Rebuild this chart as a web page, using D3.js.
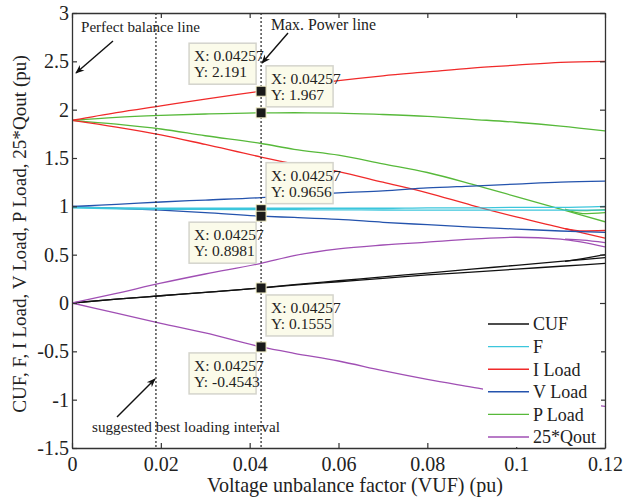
<!DOCTYPE html>
<html>
<head>
<meta charset="utf-8">
<script src="https://cdnjs.cloudflare.com/ajax/libs/d3/7.8.5/d3.min.js"></script>
<style>
  body { margin: 0; background: #fff; }
</style>
</head>
<body>
<div id="chartCont"></div>
<script>
// sample points along the VUF axis (pu)
const vuf = [0, 0.01, 0.02, 0.03, 0.04257, 0.05, 0.06, 0.07, 0.08, 0.09, 0.1, 0.11, 0.12];

// each quantity was simulated twice (two loading cases), so two curves per colour
const cufA   = [0, 0.04, 0.075, 0.11, 0.1555, 0.19, 0.23, 0.27, 0.31, 0.35, 0.39, 0.43, 0.47];
const cufB   = [0, 0.04, 0.075, 0.11, 0.155, 0.185, 0.22, 0.255, 0.29, 0.32, 0.35, 0.38, 0.41];
const fA     = [0.99, 0.985, 0.98, 0.98, 0.98, 0.98, 0.98, 0.98, 0.985, 0.985, 0.99, 0.99, 1.0];
const fB     = [0.985, 0.975, 0.97, 0.968, 0.9656, 0.965, 0.963, 0.962, 0.961, 0.96, 0.96, 0.96, 0.96];
const iLoadA = [1.89, 1.97, 2.04, 2.11, 2.191, 2.24, 2.30, 2.35, 2.39, 2.43, 2.46, 2.49, 2.50];
const iLoadB = [1.89, 1.82, 1.74, 1.64, 1.51, 1.44, 1.36, 1.25, 1.14, 1.01, 0.89, 0.78, 0.67];
const vLoadA = [1.0, 1.02, 1.045, 1.065, 1.09, 1.11, 1.14, 1.16, 1.19, 1.21, 1.23, 1.25, 1.26];
const vLoadB = [1.0, 0.98, 0.96, 0.935, 0.8981, 0.885, 0.865, 0.835, 0.81, 0.785, 0.765, 0.745, 0.73];
const pLoadA = [1.89, 1.92, 1.94, 1.955, 1.967, 1.968, 1.965, 1.95, 1.93, 1.90, 1.87, 1.83, 1.78];
const pLoadB = [1.89, 1.85, 1.80, 1.73, 1.65, 1.59, 1.53, 1.44, 1.35, 1.23, 1.10, 0.97, 0.84];
const qOutA  = [0, 0.10, 0.205, 0.30, 0.41, 0.49, 0.56, 0.60, 0.63, 0.66, 0.68, 0.66, 0.58];
const qOutB  = [0, -0.105, -0.21, -0.31, -0.4543, -0.52, -0.60, -0.70, -0.79, -0.87, -0.95, -1.01, -1.07];

// short branches that split off near the end of the range
const branchX  = [0.111, 0.115, 0.12];
const pLoadC   = [0.96, 0.955, 0.965];
const pLoadD   = [0.97, 0.925, 0.935];
const iLoadC   = [0.77, 0.745, 0.75];
const qOutC    = [0.66, 0.65, 0.625];
const cufC     = [0.43, 0.46, 0.50];

const seriesNames  = ["CUF", "F", "I Load", "V Load", "P Load", "25*Qout"];
const seriesColors = ["#111111", "#3cc6dc", "#f02a2a", "#2453ad", "#57b93a", "#a04fb4"];

const xTicks = [0, 0.02, 0.04, 0.06, 0.08, 0.1, 0.12];
const yTicks = [-1.5, -1, -0.5, 0, 0.5, 1, 1.5, 2, 2.5, 3];

// dotted guide lines
const bestLoadX = 0.0189;
const maxPowerX = 0.04257;

// data-tip values at VUF = 0.04257
const tipY = [2.191, 1.967, 0.9656, 0.8981, 0.1555, -0.4543];

(function() {
  let width = 632,
    height = 499;
  let margin = {top: 13, right: 27, bottom: 51, left: 72};
  let w = width - margin.left - margin.right,
    h = height - margin.top - margin.bottom;

  let svg = d3.select("#chartCont")
    .append("svg")
    .attr("width", width)
    .attr("height", height)
    .attr("font-family", "Liberation Serif");

  // shrink/grow a text so it spans the same width as in the picture
  function fitText(sel, target) {
    let len = sel.node().getComputedTextLength();
    let fs = parseFloat(sel.attr("font-size"));
    sel.attr("font-size", (fs * target / len).toFixed(2));
  }

  let defs = svg.append("defs");
  defs.append("clipPath").attr("id", "plotClip")
    .append("rect").attr("width", w).attr("height", h);
  defs.append("marker")
    .attr("id", "arrow")
    .attr("viewBox", "0 0 10 10")
    .attr("refX", 9).attr("refY", 5)
    .attr("markerWidth", 9).attr("markerHeight", 9)
    .attr("markerUnits", "userSpaceOnUse")
    .attr("orient", "auto")
    .append("path")
    .attr("d", "M0,1 L10,5 L0,9 L3,5 Z")
    .attr("fill", "#111");

  let g = svg.append("g")
    .attr("transform", "translate(" + margin.left + "," + margin.top + ")");

  let x = d3.scaleLinear().domain([0, 0.12]).range([0, w]);
  let y = d3.scaleLinear().domain([-1.5, 3]).range([h, 0]);

  // curves
  let curves = [
    {s: 0, xs: vuf, v: cufB}, {s: 0, xs: vuf, v: cufA}, {s: 0, xs: branchX, v: cufC},
    {s: 4, xs: vuf, v: pLoadA}, {s: 4, xs: vuf, v: pLoadB},
    {s: 4, xs: branchX, v: pLoadC}, {s: 4, xs: branchX, v: pLoadD},
    {s: 2, xs: vuf, v: iLoadA}, {s: 2, xs: vuf, v: iLoadB}, {s: 2, xs: branchX, v: iLoadC},
    {s: 3, xs: vuf, v: vLoadA}, {s: 3, xs: vuf, v: vLoadB},
    {s: 1, xs: vuf, v: fA}, {s: 1, xs: vuf, v: fB},
    {s: 5, xs: vuf, v: qOutA}, {s: 5, xs: vuf, v: qOutB}, {s: 5, xs: branchX, v: qOutC}
  ];

  let line = d3.line()
    .x(function(d) { return x(d[0]); })
    .y(function(d) { return y(d[1]); })
    .curve(d3.curveMonotoneX);

  let plot = g.append("g").attr("clip-path", "url(#plotClip)");

  plot.selectAll(".curve")
    .data(curves)
    .enter().append("path")
    .attr("class", "curve")
    .attr("fill", "none")
    .attr("stroke", function(d) { return seriesColors[d.s]; })
    .attr("stroke-width", 1.3)
    .attr("d", function(d) {
      return line(d.xs.map(function(v, i) { return [v, d.v[i]]; }));
    });

  // dotted guide lines
  plot.selectAll(".guide")
    .data([bestLoadX, maxPowerX])
    .enter().append("line")
    .attr("class", "guide")
    .attr("x1", function(d) { return x(d); })
    .attr("x2", function(d) { return x(d); })
    .attr("y1", 0).attr("y2", h)
    .attr("stroke", "#222")
    .attr("stroke-width", 1.2)
    .attr("stroke-dasharray", "2,2");

  // axes, ticks pointing inwards, mirrored on top / right
  let fmt = function(d) { return String(d); };
  let axes = [
    g.append("g")
      .attr("transform", "translate(0," + h + ")")
      .call(d3.axisBottom(x).tickValues(xTicks).tickFormat(fmt).tickSize(-5).tickPadding(9).tickSizeOuter(0)),
    g.append("g")
      .call(d3.axisTop(x).tickValues(xTicks).tickFormat("").tickSize(-5).tickSizeOuter(0)),
    g.append("g")
      .call(d3.axisLeft(y).tickValues(yTicks).tickFormat(fmt).tickSize(-5).tickPadding(3).tickSizeOuter(0)),
    g.append("g")
      .attr("transform", "translate(" + w + ",0)")
      .call(d3.axisRight(y).tickValues(yTicks).tickFormat("").tickSize(-5).tickSizeOuter(0))
  ];
  axes.forEach(function(a) { a.attr("font-family", null).attr("font-size", null); });

  g.selectAll(".domain").attr("stroke", "#333").attr("stroke-width", 1.3);
  g.selectAll(".tick line").attr("stroke", "#333").attr("stroke-width", 1.2);
  g.selectAll(".tick text")
    .attr("font-size", 20)
    .attr("fill", "#222");

  // legend (white box, no border)
  let legend = g.append("g").attr("transform", "translate(411,297)");
  legend.append("rect")
    .attr("width", 118).attr("height", 137)
    .attr("fill", "#fff");
  let rows = legend.selectAll(".leg")
    .data(seriesNames)
    .enter().append("g")
    .attr("class", "leg")
    .attr("transform", function(d, i) { return "translate(0," + (14 + i * 22.6) + ")"; });
  rows.append("line")
    .attr("x1", 5).attr("x2", 46)
    .attr("stroke", function(d, i) { return seriesColors[i]; })
    .attr("stroke-width", 1.4);
  rows.append("text")
    .attr("x", 50).attr("dy", "0.35em")
    .attr("font-size", 18)
    .attr("fill", "#222")
    .text(function(d) { return d; });

  // data tips
  let tipSide = [-1, 1, 1, -1, 1, -1];
  let tipTop = [-48, -47, -47, 6, 7, 6];
  let tips = g.selectAll(".tip")
    .data(tipY)
    .enter().append("g")
    .attr("class", "tip")
    .attr("transform", function(d, i) {
      let bx = tipSide[i] < 0 ? x(maxPowerX) - 72 : x(maxPowerX) + 5;
      return "translate(" + bx + "," + (y(d) + tipTop[i]) + ")";
    });
  tips.append("rect")
    .attr("width", 67).attr("height", 41)
    .attr("fill", "#fbfbea")
    .attr("stroke", "#d4d4cc")
    .attr("stroke-width", 1.5);
  tips.append("text")
    .attr("x", 5).attr("y", 18)
    .attr("font-size", 15.5)
    .attr("fill", "#222")
    .text("X: " + maxPowerX);
  tips.append("text")
    .attr("x", 5).attr("y", 34)
    .attr("font-size", 15.5)
    .attr("fill", "#222")
    .text(function(d) { return "Y: " + d; });

  g.selectAll(".tipMark")
    .data(tipY)
    .enter().append("rect")
    .attr("class", "tipMark")
    .attr("x", x(maxPowerX) - 5)
    .attr("y", function(d) { return y(d) - 5; })
    .attr("width", 10).attr("height", 10)
    .attr("fill", "#1a1a1a")
    .attr("stroke", "#f4f0c8")
    .attr("stroke-width", 1);

  // notes and arrows
  function note(tx, ty, str, target) {
    let t = svg.append("text").attr("x", tx).attr("y", ty)
      .attr("font-size", 16)
      .attr("fill", "#222").text(str);
    fitText(t, target);
  }
  note(81, 32, "Perfect balance line", 119);
  note(271, 30, "Max. Power  line", 105);
  note(92, 432, "suggested best loading interval", 188);

  let arrows = [[113, 41, 76, 73], [288, 33, 262, 63], [117, 417, 155, 379]];
  svg.selectAll(".arrow")
    .data(arrows)
    .enter().append("line")
    .attr("class", "arrow")
    .attr("x1", function(d) { return d[0]; })
    .attr("y1", function(d) { return d[1]; })
    .attr("x2", function(d) { return d[2]; })
    .attr("y2", function(d) { return d[3]; })
    .attr("stroke", "#111")
    .attr("stroke-width", 1.4)
    .attr("marker-end", "url(#arrow)");

  // axis titles
  let xt = svg.append("text")
    .attr("x", 355).attr("y", 492)
    .attr("text-anchor", "middle")
    .attr("font-size", 21)
    .attr("fill", "#222")
    .text("Voltage unbalance factor (VUF) (pu)");
  fitText(xt, 296);
  let yt = svg.append("text")
    .attr("transform", "translate(26,234) rotate(-90)")
    .attr("text-anchor", "middle")
    .attr("font-size", 20)
    .attr("fill", "#222")
    .text("CUF, F, I Load, V Load, P Load, 25*Qout (pu)");
  fitText(yt, 358);
})();
</script>
</body>
</html>
